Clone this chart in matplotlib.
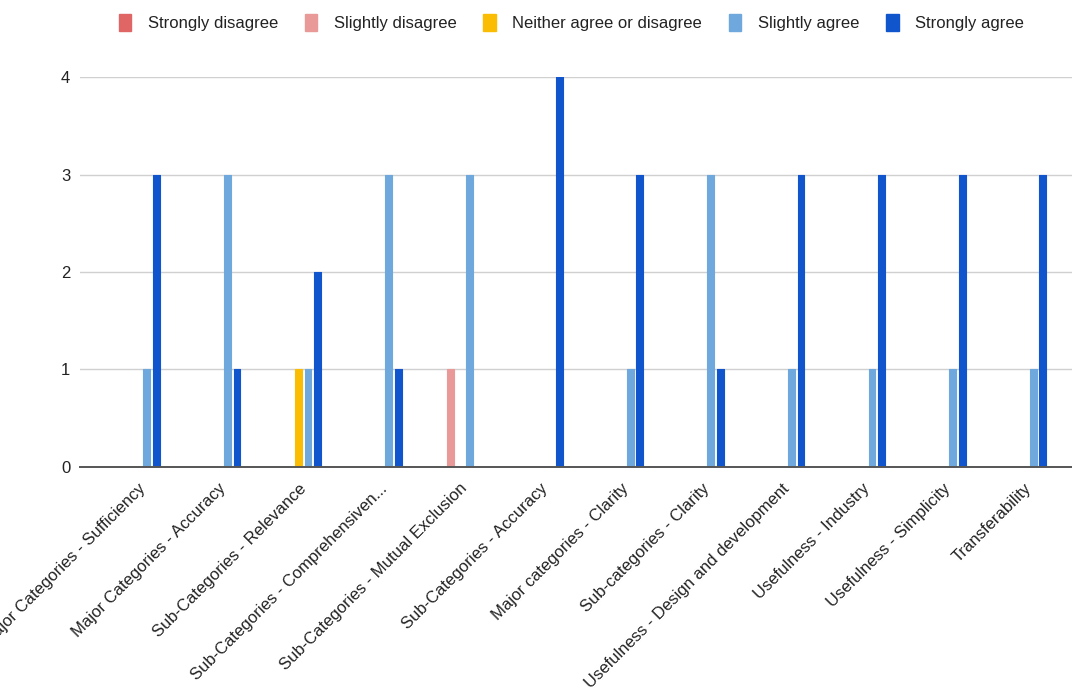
import numpy as np
import matplotlib
matplotlib.use("Agg")
import matplotlib.pyplot as plt
from matplotlib.patches import Patch

plt.rcParams["font.family"] = ["Liberation Sans", "DejaVu Sans"]

criteria = [
    "Major Categories - Sufficiency",
    "Major Categories - Accuracy",
    "Sub-Categories - Relevance",
    "Sub-Categories - Comprehensiven...",
    "Sub-Categories - Mutual Exclusion",
    "Sub-Categories - Accuracy",
    "Major categories - Clarity",
    "Sub-categories - Clarity",
    "Usefulness - Design and development",
    "Usefulness - Industry",
    "Usefulness - Simplicity",
    "Transferability",
]

responses = ["Strongly disagree", "Slightly disagree", "Neither agree or disagree",
             "Slightly agree", "Strongly agree"]
colors = ["#e06666", "#ea9999", "#fbbc04", "#6fa8dc", "#1155cc"]

strongly_disagree = [0, 0, 0, 0, 0, 0, 0, 0, 0, 0, 0, 0]
slightly_disagree = [0, 0, 0, 0, 1, 0, 0, 0, 0, 0, 0, 0]
neither = [0, 0, 1, 0, 0, 0, 0, 0, 0, 0, 0, 0]
slightly_agree = [1, 3, 1, 3, 3, 0, 1, 3, 1, 1, 1, 1]
strongly_agree = [3, 1, 2, 1, 0, 4, 3, 1, 3, 3, 3, 3]

counts = [strongly_disagree, slightly_disagree, neither, slightly_agree, strongly_agree]

fig = plt.figure(figsize=(10.72, 6.90), dpi=100)
ax = fig.add_axes([0.0746, 0.3232, 0.9254, 0.5652])

x = np.arange(len(criteria))
step = 0.118
width = 0.085
for k, (vals, c) in enumerate(zip(counts, colors)):
    vals = np.array(vals, dtype=float)
    vals[vals == 0] = np.nan  # zero counts draw no bar
    ax.bar(x + (k - 2) * step, vals, width=width, color=c, edgecolor=c,
           linewidth=0.8, joinstyle="round", zorder=3)

ax.set_xlim(-0.713, 11.6)
ax.set_ylim(0, 4)
ax.set_yticks([0, 1, 2, 3, 4])
ax.grid(axis="y", color="#d0d0d0", linewidth=1.0, zorder=0)
for s in ["top", "right", "left"]:
    ax.spines[s].set_visible(False)
ax.spines["bottom"].set_color("#555555")
ax.spines["bottom"].set_linewidth(1.4)
ax.spines["bottom"].set_zorder(4)
ax.tick_params(axis="both", length=0, labelsize=12, labelcolor="#222222")
ax.tick_params(axis="y", pad=7)
ax.tick_params(axis="x", pad=10)

ax.set_xticks(x)
ax.set_xticklabels(criteria, rotation=45, ha="right", va="top",
                   rotation_mode="anchor")

handles = [Patch(facecolor=c, edgecolor=c, label=r) for r, c in zip(responses, colors)]
fig.legend(handles=handles, loc="upper center", bbox_to_anchor=(0.533, 1.002),
           ncol=5, frameon=False, fontsize=12, handlelength=0.75, handleheight=1.2,
           handletextpad=1.0, columnspacing=1.6, labelcolor="#222222")

fig.savefig("out.png", dpi=100)
